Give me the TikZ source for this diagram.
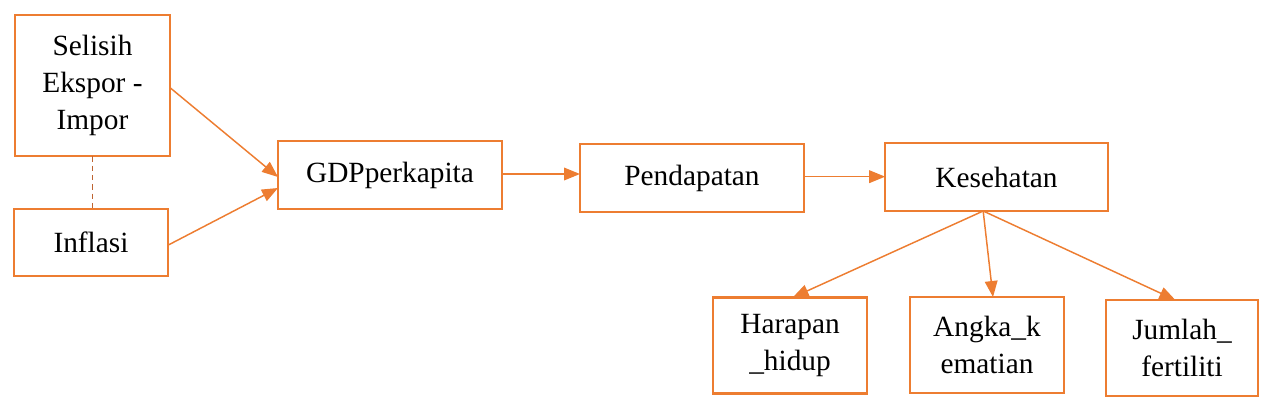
\documentclass[tikz,border=0pt]{standalone}
\usepackage{fontspec}
\setmainfont{Liberation Serif}
\usetikzlibrary{arrows.meta,calc}
\definecolor{boxorange}{RGB}{237,125,49}
\definecolor{dashbrown}{RGB}{190,100,50}
\begin{document}
\begin{tikzpicture}[x=0.75pt,y=-0.75pt,
  box/.style={draw=boxorange,line width=1.9pt,fill=white,inner sep=0pt,outer sep=0pt,
    align=center,font=\fontsize{22}{27.5}\selectfont},
  conn/.style={draw=boxorange,line width=1.1pt,-{Triangle[length=12pt,width=9.5pt]}},
  tie/.style={draw=dashbrown,line width=0.7pt,dash pattern=on 4pt off 3pt}]
\useasboundingbox (0,0) rectangle (1266,408);
\node[box,minimum width=116pt,minimum height=106pt] (sel) at (92.5,85.5) {Selisih\\Ekspor -\\Impor};
\node[box,minimum width=115.5pt,minimum height=50pt] (inf) at (91,242.5) {Inflasi};
\node[box,minimum width=168pt,minimum height=51pt] (gdp) at (390,175) {GDPperkapita};
\node[box,minimum width=168pt,minimum height=51pt] (pen) at (692,178) {Pendapatan};
\node[box,minimum width=167pt,minimum height=51pt] (kes) at (996.5,177) {Kesehatan};
\node[box,minimum width=115.5pt,minimum height=72pt] (har) at (790,345.5) {Harapan\\\_hidup};
\node[box,minimum width=115.5pt,minimum height=72pt] (ang) at (987,345) {Angka\_k\\ematian};
\node[box,minimum width=114pt,minimum height=72pt] (jum) at (1182,348) {Jumlah\_\\fertiliti};
\draw[tie] (sel.south) -- (sel.south |- inf.north);
\draw[conn] ([yshift=-1.5pt]sel.east) -- ([yshift=-1.5pt]gdp.west);
\draw[conn] ([yshift=-2pt]inf.east) -- ([yshift=-9.75pt]gdp.west);
\draw[conn] ([yshift=0.75pt]gdp.east) -- ([yshift=0.75pt]gdp.east -| pen.west);
\draw[conn] ([yshift=1pt]pen.east) -- ([yshift=1pt]pen.east -| kes.west);
\draw[conn] ([xshift=-10pt]kes.south) -- ([xshift=2pt]har.north);
\draw[conn] ([xshift=-10pt]kes.south) -- ([xshift=4.5pt]ang.north);
\draw[conn] ([xshift=-10pt]kes.south) -- ([xshift=-5pt]jum.north);
\end{tikzpicture}
\end{document}
